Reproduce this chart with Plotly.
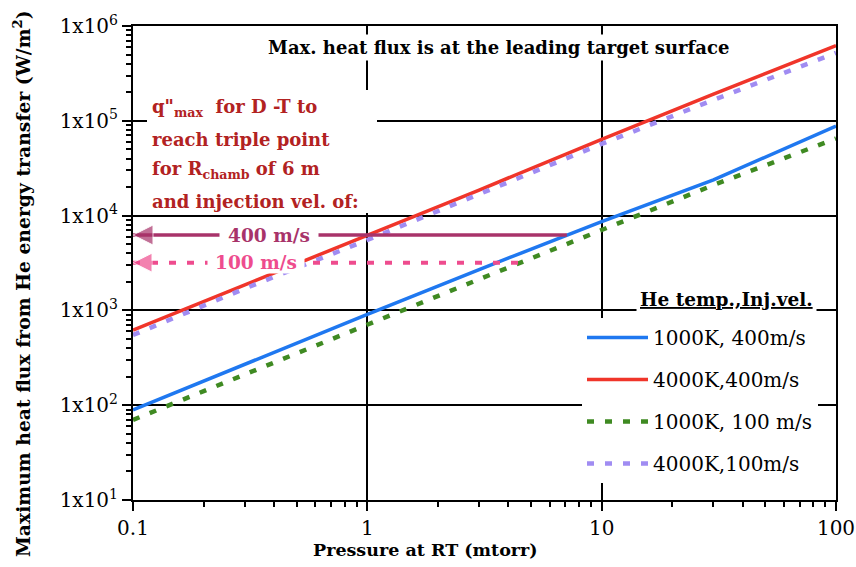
import plotly.graph_objects as go

# ---------------- data ----------------
pressure = [0.1, 0.3, 1, 3, 10, 30, 100]
flux_1000K_400 = [89, 270, 910, 2700, 8630, 23800, 88100]
flux_4000K_400 = [620, 1860, 6200, 18600, 63800, 191000, 620000]
flux_1000K_100 = [70, 212, 713, 2130, 7050, 21000, 65000]
flux_4000K_100 = [550, 1700, 5530, 17000, 57000, 166000, 520000]

series_names = ["1000K, 400m/s", "4000K,400m/s", "1000K, 100 m/s", "4000K,100m/s"]

arrow_400_x = [0.1, 7.1]
arrow_400_y = [6240, 6240]
arrow_100_x = [0.1, 4.5]
arrow_100_y = [3190, 3190]

x_tick_vals = [0.1, 1, 10, 100]
x_tick_text = ["0.1", "1", "10", "100"]
y_tick_vals = [1e1, 1e2, 1e3, 1e4, 1e5, 1e6]
y_tick_text = ["1x10<sup>1</sup>", "1x10<sup>2</sup>", "1x10<sup>3</sup>",
               "1x10<sup>4</sup>", "1x10<sup>5</sup>", "1x10<sup>6</sup>"]

x_minor = [k * 10.0 ** e for e in range(-1, 2) for k in range(2, 10)]
y_minor = [k * 10.0 ** e for e in range(1, 6) for k in range(2, 10)]

FONT = "DejaVu Serif"
C_BLUE = "#1f78f0"
C_RED = "#f0352a"
C_GREEN = "#3f8a22"
C_PURPLE = "#a08cf2"
C_400 = "#a8336a"
C_100 = "#ee4c8e"
C_TXT = "#b22222"

fig = go.Figure()

series = [
    (flux_1000K_400, C_BLUE, "solid", 3.5),
    (flux_4000K_400, C_RED, "solid", 3.5),
    (flux_1000K_100, C_GREEN, "7px,11px", 4.5),
    (flux_4000K_100, C_PURPLE, "7px,11px", 4.5),
]
for i, (ys, col, dash, w) in enumerate(series):
    fig.add_trace(go.Scatter(
        x=pressure, y=ys, mode="lines", name=series_names[i],
        legendgroup=f"g{i}",
        line=dict(color=col, width=w, dash=dash),
    ))

# arrows
fig.add_trace(go.Scatter(
    x=arrow_400_x, y=arrow_400_y, mode="lines+markers", showlegend=False,
    line=dict(color=C_400, width=3.5),
    marker=dict(symbol="arrow-left", size=[20, 0], color=C_400),
    cliponaxis=False,
))
fig.add_trace(go.Scatter(
    x=arrow_100_x, y=arrow_100_y, mode="lines+markers", showlegend=False,
    line=dict(color=C_100, width=4, dash="7px,11px"),
    marker=dict(symbol="arrow-left", size=[19, 0], color=C_100),
    cliponaxis=False,
))

def py(px):
    return (500 - px) / 474.0

def pxx(px):
    return (px - 133) / 703.0

red_font = dict(family=FONT, size=18, color=C_TXT)
annotations = [
    dict(text="<b>Max. heat flux is at the leading target surface</b>",
         x=pxx(499), y=py(47), xanchor="center", yanchor="middle",
         showarrow=False, font=dict(family=FONT, size=18, color="black"),
         bgcolor="white", borderpad=2),
    dict(text="<b>q\"<sub>max</sub>  for D -T to</b>", x=pxx(150), y=py(108),
         xanchor="left", yanchor="middle", showarrow=False, font=red_font),
    dict(text="<b>reach triple point</b>", x=pxx(150), y=py(140),
         xanchor="left", yanchor="middle", showarrow=False, font=red_font),
    dict(text="<b>for R<sub>chamb</sub> of 6 m</b>", x=pxx(150), y=py(170),
         xanchor="left", yanchor="middle", showarrow=False, font=red_font),
    dict(text="<b>and injection vel. of:</b>", x=pxx(150), y=py(201),
         xanchor="left", yanchor="middle", showarrow=False, font=red_font),
    dict(text="<b>400 m/s</b>", x=pxx(269), y=py(235),
         xanchor="center", yanchor="middle", showarrow=False, width=98, height=22,
         font=dict(family=FONT, size=18.5, color=C_400), bgcolor="white", borderpad=0),
    dict(text="<b>100 m/s</b>", x=pxx(256), y=py(262),
         xanchor="center", yanchor="middle", showarrow=False, width=96, height=22,
         font=dict(family=FONT, size=18.5, color=C_100), bgcolor="white", borderpad=0),
    dict(text="<b><u>He temp.,Inj.vel.</u></b>", x=pxx(726), y=py(299),
         xanchor="center", yanchor="middle", showarrow=False,
         font=dict(family=FONT, size=18.5, color="black"), bgcolor="white", borderpad=3),
    dict(text="<b>Maximum heat flux from He energy transfer (W/m<sup>2</sup>)</b>",
         x=pxx(22), y=py(284), xanchor="center", yanchor="middle", textangle=-90,
         showarrow=False, font=dict(family=FONT, size=18.8, color="black")),
    dict(text="<b>Pressure at RT (mtorr)</b>",
         x=pxx(425), y=py(550), xanchor="center", yanchor="middle",
         showarrow=False, font=dict(family=FONT, size=17.5, color="black")),
]
for a in annotations:
    a["xref"] = "paper"
    a["yref"] = "paper"

shapes = [
    dict(type="rect", xref="paper", yref="paper", layer="above",
         x0=pxx(147), x1=pxx(377), y0=py(213), y1=py(90),
         fillcolor="white", line=dict(width=0)),
]

axis_common = dict(
    type="log", showline=True, linecolor="black", linewidth=2, mirror=True,
    showgrid=True, gridcolor="black", gridwidth=1.5,
    ticks="outside", ticklen=9, tickwidth=2, tickcolor="black",
    tickfont=dict(family=FONT, size=20, color="black"),
    zeroline=False, automargin=False, ticklabeloverflow="allow",
)

fig.update_layout(
    width=856, height=567,
    margin=dict(l=133, r=20, t=26, b=67),
    paper_bgcolor="white", plot_bgcolor="white",
    font=dict(family=FONT, color="black"),
    xaxis=dict(range=[-1, 2], tickmode="array", tickvals=x_tick_vals, ticktext=x_tick_text,
               minor=dict(tickmode="array", tickvals=x_minor, ticks="outside",
                          ticklen=5, tickwidth=1.5, tickcolor="black", showgrid=False),
               **axis_common),
    yaxis=dict(range=[1, 6], tickmode="array", tickvals=y_tick_vals, ticktext=y_tick_text,
               minor=dict(tickmode="array", tickvals=y_minor, ticks="outside",
                          ticklen=5, tickwidth=1.5, tickcolor="black", showgrid=False),
               **axis_common),
    legend=dict(x=pxx(582), y=py(318), xanchor="left", yanchor="top",
                bgcolor="white", font=dict(family=FONT, size=20, color="black"),
                tracegroupgap=13, traceorder="grouped", itemwidth=61),
    annotations=annotations,
    shapes=shapes,
    showlegend=True,
)

fig.write_html("out.html")
